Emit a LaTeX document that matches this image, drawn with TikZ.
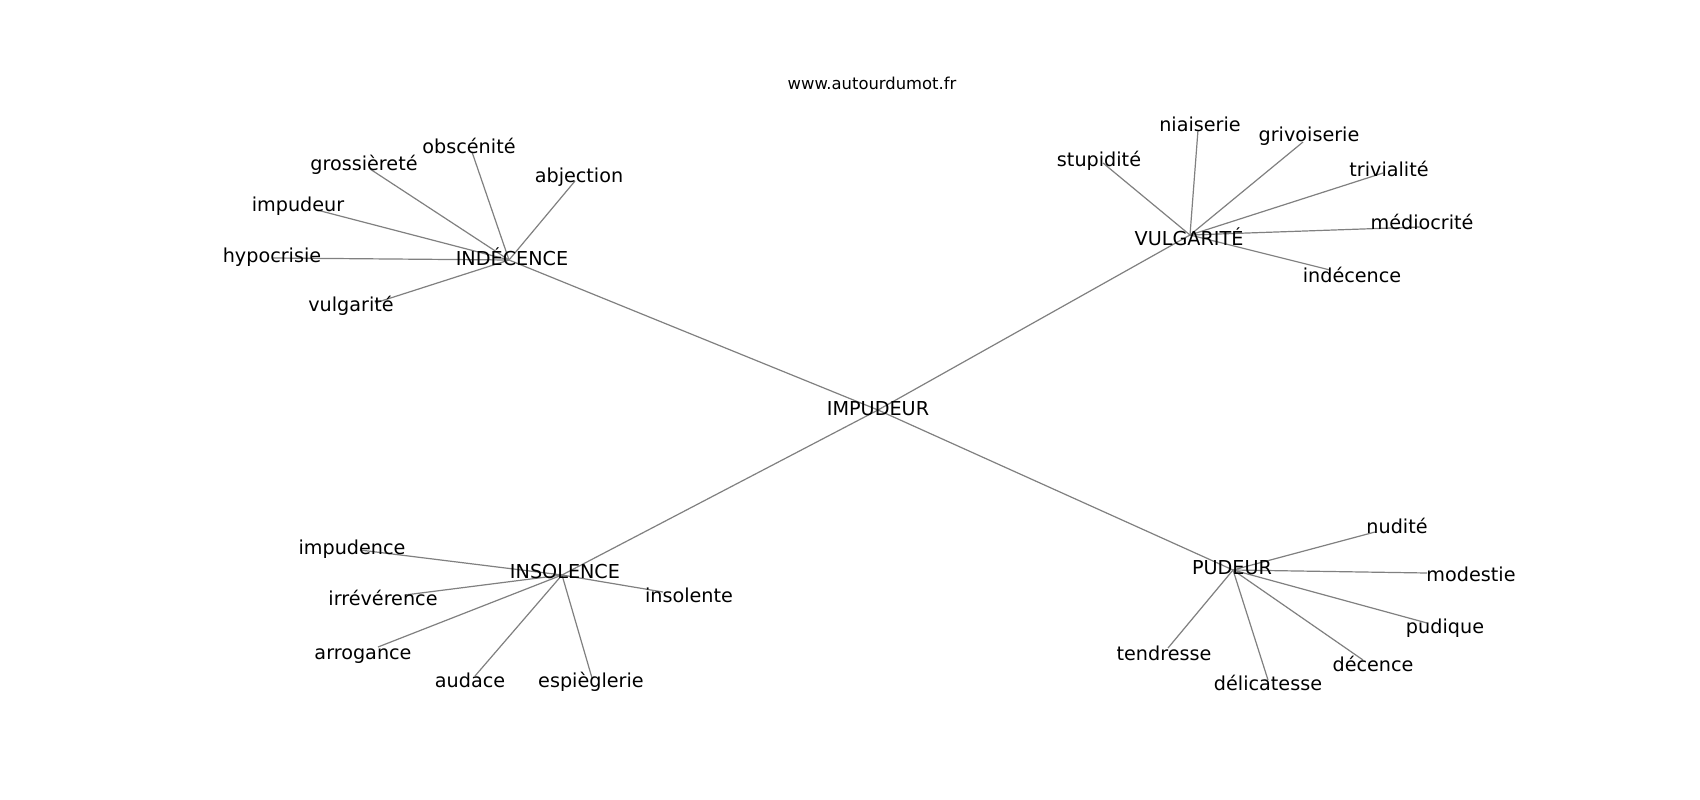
\documentclass[tikz,border=0pt]{standalone}
\usepackage{fontspec}
\setmainfont{DejaVu Sans}
\begin{document}
\begin{tikzpicture}[x=1pt,y=-1pt,
  edge/.style={draw=black!50, line width=1.2pt},
  lbl/.style={inner sep=0pt, text height=15pt, text depth=0pt, font=\fontsize{19.2}{22}\selectfont, text=black},
  ttl/.style={inner sep=0pt, text height=12.8pt, text depth=0pt, font=\fontsize{16.4}{19}\selectfont, text=black}]
\path[use as bounding box, fill=white] (0,0) rectangle (1700,800);
% node positions
\coordinate (IMP) at (878,410);
\coordinate (IND) at (509,260);
\coordinate (VUL) at (1190,235);
\coordinate (INS) at (562,575);
\coordinate (PUD) at (1233,570);
\coordinate (obs) at (472,152);
\coordinate (gro) at (370,169);
\coordinate (abj) at (575,181);
\coordinate (imp) at (317,210);
\coordinate (hyp) at (273,258);
\coordinate (vul) at (375,303);
\coordinate (nia) at (1198,130);
\coordinate (gri) at (1303,142);
\coordinate (stu) at (1103,163);
\coordinate (tri) at (1383,173);
\coordinate (med) at (1420,227);
\coordinate (inde) at (1330,270);
\coordinate (ipe) at (360,550);
\coordinate (irr) at (405,595);
\coordinate (inso) at (663,592);
\coordinate (arr) at (378,647);
\coordinate (aud) at (475,676);
\coordinate (esp) at (592,678);
\coordinate (nud) at (1375,532);
\coordinate (mod) at (1427,573);
\coordinate (pdq) at (1427,623);
\coordinate (ten) at (1168,648);
\coordinate (del) at (1268,680);
\coordinate (dec) at (1363,660);
% edges
\draw[edge] (IMP) -- (IND);
\draw[edge] (IMP) -- (VUL);
\draw[edge] (IMP) -- (INS);
\draw[edge] (IMP) -- (PUD);
\foreach \t in {obs,gro,abj,imp,hyp,vul} \draw[edge] (IND) -- (\t);
\foreach \t in {nia,gri,stu,tri,med,inde} \draw[edge] (VUL) -- (\t);
\foreach \t in {ipe,irr,inso,arr,aud,esp} \draw[edge] (INS) -- (\t);
\foreach \t in {nud,mod,pdq,ten,del,dec} \draw[edge] (PUD) -- (\t);
% labels
\node[ttl] (title) at (872,83) {www.autourdumot.fr};
\node[lbl] (lIMP) at (878,408) {IMPUDEUR};
\node[lbl] (lIND) at (512,258) {INDÉCENCE};
\node[lbl] (lVUL) at (1189,238) {VULGARITÉ};
\node[lbl] (lINS) at (565,571) {INSOLENCE};
\node[lbl] (lPUD) at (1232,567) {PUDEUR};
\node[lbl] (lobs) at (469,146) {obscénité};
\node[lbl] (lgro) at (364,163) {grossièreté};
\node[lbl] (labj) at (579,175) {abjection};
\node[lbl] (limp) at (298,204) {impudeur};
\node[lbl] (lhyp) at (272,255) {hypocrisie};
\node[lbl] (lvul) at (351,304) {vulgarité};
\node[lbl] (lnia) at (1200,124) {niaiserie};
\node[lbl] (lgri) at (1309,134) {grivoiserie};
\node[lbl] (lstu) at (1099,159) {stupidité};
\node[lbl] (ltri) at (1389,169) {trivialité};
\node[lbl] (lmed) at (1422,222) {médiocrité};
\node[lbl] (linde) at (1352,275) {indécence};
\node[lbl] (lipe) at (352,547) {impudence};
\node[lbl] (lirr) at (383,598) {irrévérence};
\node[lbl] (linso) at (689,595) {insolente};
\node[lbl] (larr) at (363,652) {arrogance};
\node[lbl] (laud) at (470,680) {audace};
\node[lbl] (lesp) at (591,680) {espièglerie};
\node[lbl] (lnud) at (1397,526) {nudité};
\node[lbl] (lmod) at (1471,574) {modestie};
\node[lbl] (lpdq) at (1445,626) {pudique};
\node[lbl] (lten) at (1164,653) {tendresse};
\node[lbl] (ldel) at (1268,683) {délicatesse};
\node[lbl] (ldec) at (1373,664) {décence};
\end{tikzpicture}
\end{document}
